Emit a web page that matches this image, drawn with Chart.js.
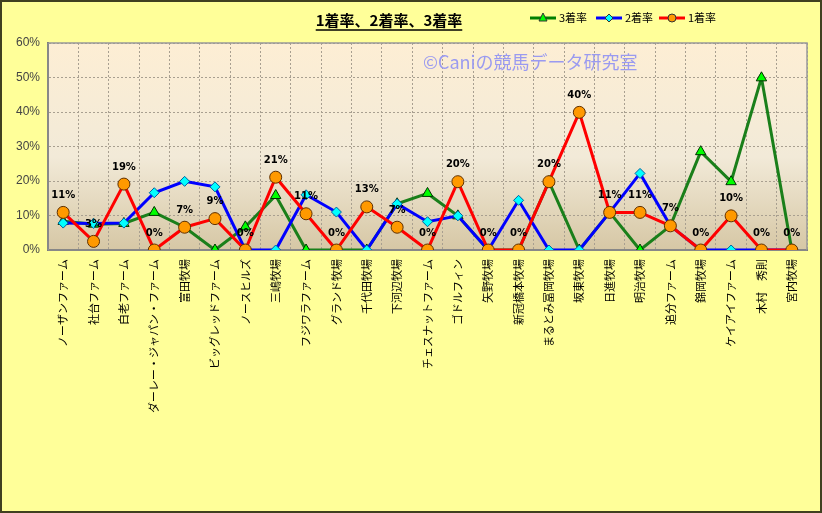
<!DOCTYPE html>
<html>
<head>
<meta charset="utf-8">
<script src="https://cdn.jsdelivr.net/npm/chart.js@4.4.0/dist/chart.umd.min.js"></script>
<style>
  body { margin: 0; background: #ffff99; }
  #chart { display: block; }
</style>
</head>
<body>
<canvas id="chart" width="822" height="513"></canvas>
<script>
// categories (farm names)
const farms = ['ノーザンファーム', '社台ファーム', '白老ファーム', 'ダーレー・ジャパン・ファーム', '富田牧場',
  'ビッグレッドファーム', 'ノースヒルズ', '三嶋牧場', 'フジワラファーム', 'グランド牧場', '千代田牧場',
  '下河辺牧場', 'チェスナットファーム', 'ゴドルフィン', '矢野牧場', '新冠橋本牧場', 'まるとみ冨岡牧場',
  '坂東牧場', '日進牧場', '明治牧場', '追分ファーム', '錦岡牧場', 'ケイアイファーム', '木村　秀則', '宮内牧場'];

// values in %
const win1 = [10.9, 2.5, 19.1, 0, 6.6, 9.1, 0, 21.1, 10.5, 0, 12.5, 6.6, 0, 19.8, 0, 0, 19.8, 39.9, 10.9, 10.9, 7.0, 0, 9.9, 0, 0];
const win2 = [7.8, 7.7, 7.8, 16.6, 19.9, 18.3, 0, 0, 16.0, 11.0, 0, 13.4, 8.2, 9.9, 0, 14.4, 0, 0, 10.9, 22.2, 7.0, 0, 0, 0, 0];
const win3 = [8.3, 7.5, 7.7, 10.9, 6.6, 0, 6.7, 15.8, 0, 0, 0, 13.4, 16.4, 9.9, 0, 0, 19.8, 0, 10.9, 0, 7.0, 28.5, 19.8, 49.9, 0];

const yTicks = [0, 10, 20, 30, 40, 50, 60];

const jp = '"Noto Sans CJK JP", sans-serif';

// background, frame, title, legend, watermark
const decor = {
  id: 'decor',
  beforeDraw(chart) {
    const { ctx, chartArea: a, width, height } = chart;
    ctx.save();
    ctx.fillStyle = '#ffff99';
    ctx.fillRect(0, 0, width, height);
    const g = ctx.createLinearGradient(0, a.top, 0, a.bottom);
    g.addColorStop(0, '#fdeed4');
    g.addColorStop(0.55, '#f2ead8');
    g.addColorStop(1, '#d6c7a5');
    ctx.fillStyle = g;
    ctx.fillRect(a.left, a.top, a.right - a.left, a.bottom - a.top);
    // outer border
    ctx.strokeStyle = '#404020';
    ctx.lineWidth = 2;
    ctx.strokeRect(1, 1, width - 2, height - 2);
    ctx.restore();
  },
  beforeDatasetsDraw(chart) {
    const { ctx, chartArea: a } = chart;
    ctx.save();
    ctx.strokeStyle = '#999999';
    ctx.lineWidth = 1.5;
    ctx.strokeRect(a.left, a.top, a.right - a.left, a.bottom - a.top);
    ctx.fillStyle = '#9a9af0';
    ctx.font = '18px ' + jp;
    ctx.textAlign = 'left';
    ctx.textBaseline = 'middle';
    ctx.fillText('©Caniの競馬データ研究室', 423, 62);
    ctx.restore();
  },
  afterDraw(chart) {
    const { ctx } = chart;
    ctx.save();
    // title
    ctx.fillStyle = '#000';
    ctx.font = 'bold 15px ' + jp;
    ctx.textAlign = 'center';
    ctx.textBaseline = 'middle';
    const t = '1着率、2着率、3着率';
    ctx.fillText(t, 389, 20);
    const tw = ctx.measureText(t).width;
    ctx.strokeStyle = '#000';
    ctx.lineWidth = 1.5;
    ctx.beginPath();
    ctx.moveTo(389 - tw / 2, 30);
    ctx.lineTo(389 + tw / 2, 30);
    ctx.stroke();
    // legend
    const items = [
      { x: 530, label: '3着率', line: '#008000', fill: '#00ff00', shape: 'tri' },
      { x: 596, label: '2着率', line: '#0000ff', fill: '#00ffff', shape: 'dia' },
      { x: 659, label: '1着率', line: '#ff0000', fill: '#ff9900', shape: 'cir' }
    ];
    ctx.font = '11px ' + jp;
    ctx.textAlign = 'left';
    items.forEach(it => {
      const y = 18;
      ctx.strokeStyle = it.line;
      ctx.lineWidth = 3;
      ctx.beginPath();
      ctx.moveTo(it.x, y);
      ctx.lineTo(it.x + 26, y);
      ctx.stroke();
      const cx = it.x + 13;
      ctx.fillStyle = it.fill;
      ctx.strokeStyle = '#333';
      ctx.lineWidth = 1;
      ctx.beginPath();
      if (it.shape === 'tri') {
        ctx.moveTo(cx, y - 5); ctx.lineTo(cx + 4, y + 3); ctx.lineTo(cx - 4, y + 3); ctx.closePath();
      } else if (it.shape === 'dia') {
        ctx.moveTo(cx, y - 4); ctx.lineTo(cx + 4, y); ctx.lineTo(cx, y + 4); ctx.lineTo(cx - 4, y); ctx.closePath();
      } else {
        ctx.arc(cx, y, 4, 0, Math.PI * 2);
      }
      ctx.fill();
      ctx.stroke();
      ctx.fillStyle = '#000';
      ctx.fillText(it.label, it.x + 29, y);
    });
    // data labels for 1着率
    const meta = chart.getDatasetMeta(0);
    ctx.font = 'bold 10px "DejaVu Sans", sans-serif';
    ctx.textAlign = 'center';
    ctx.textBaseline = 'middle';
    ctx.fillStyle = '#000';
    meta.data.forEach((pt, i) => {
      ctx.fillText(Math.round(win1[i]) + '%', pt.x, pt.y - 17);
    });
    ctx.restore();
  }
};

new Chart(document.getElementById('chart'), {
  type: 'line',
  data: {
    labels: farms,
    datasets: [
      {
        label: '1着率', data: win1, borderColor: '#ff0000', borderWidth: 3,
        pointStyle: 'circle', pointRadius: 6, pointBackgroundColor: '#ff9900',
        pointBorderColor: '#603000', pointBorderWidth: 1, tension: 0
      },
      {
        label: '2着率', data: win2, borderColor: '#0000ff', borderWidth: 3,
        pointStyle: 'rectRot', pointRadius: 5, pointBackgroundColor: '#00ffff',
        pointBorderColor: '#0060a0', pointBorderWidth: 1, tension: 0
      },
      {
        label: '3着率', data: win3, borderColor: '#1a7f1a', borderWidth: 3,
        pointStyle: 'triangle', pointRadius: 6, pointBackgroundColor: '#00ff00',
        pointBorderColor: '#003000', pointBorderWidth: 1, tension: 0
      }
    ]
  },
  options: {
    responsive: false,
    animation: false,
    layout: { padding: { top: 43, right: 15, left: 0, bottom: 0 } },
    plugins: {
      legend: { display: false },
      title: { display: false },
      tooltip: { enabled: false }
    },
    scales: {
      x: {
        offset: true,
        grid: { offset: true, color: '#a89f90', drawTicks: false },
        border: { color: '#555', width: 2, dash: [2, 2] },
        ticks: {
          autoSkip: false, minRotation: 90, maxRotation: 90, padding: 9,
          color: '#000', font: { family: jp, size: 11 }
        },
        afterFit(s) { s.height = 263; }
      },
      y: {
        min: 0, max: 60,
        grid: { color: '#a89f90', drawTicks: false },
        border: { color: '#555', width: 2, dash: [2, 2] },
        ticks: {
          stepSize: 5, padding: 8, color: '#444',
          font: { family: '"Liberation Sans", sans-serif', size: 12 },
          callback: v => (yTicks.includes(v) ? v + '%' : '')
        },
        afterFit(s) { s.width = 48; }
      }
    }
  },
  plugins: [decor]
});
</script>
</body>
</html>
